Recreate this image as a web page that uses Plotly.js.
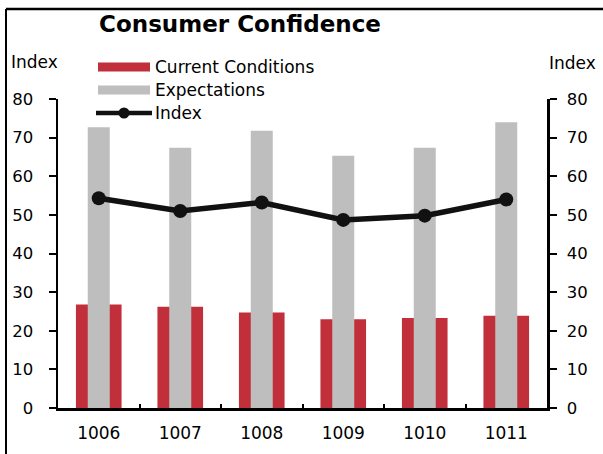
<!DOCTYPE html>
<html>
<head>
<meta charset="utf-8">
<script src="https://cdn.plot.ly/plotly-3.0.1.min.js"></script>
<style>
  html, body { margin: 0; padding: 0; background: #fff; }
  #chart { width: 603px; height: 454px; }
</style>
</head>
<body>
<div id="chart"></div>
<script>
// ---- data ----
const categories = ['1006', '1007', '1008', '1009', '1010', '1011'];
const currentConditions = [26.8, 26.2, 24.7, 23.0, 23.3, 23.9];
const expectations = [72.7, 67.4, 71.8, 65.3, 67.4, 74.0];
const indexValues = [54.3, 51.0, 53.2, 48.7, 49.8, 54.0];
const seriesNames = ['Current Conditions', 'Expectations', 'Index'];
const yTickVals = [0, 10, 20, 30, 40, 50, 60, 70, 80];
const titleText = 'Consumer Confidence';
const axisTitleText = 'Index';

// ---- layout geometry (pixels) ----
const W = 603, H = 454;
const L = 58, R = 56, T = 99, B = 46;
const PW = W - L - R, PH = H - T - B;
const px = x => (x - L) / PW;           // pixel x -> paper
const py = y => (H - B - y) / PH;       // pixel y -> paper

const RED = '#C1303A';
const GRAY = '#BEBEBE';
const BLACK = '#111111';
const FONT = 'DejaVu Sans, Arial, sans-serif';

const traces = [
  {
    type: 'bar', x: categories, y: currentConditions, name: seriesNames[0],
    marker: { color: RED, line: { width: 0 } }, width: 0.56, showlegend: false
  },
  {
    type: 'bar', x: categories, y: expectations, name: seriesNames[1],
    marker: { color: GRAY, line: { width: 0 } }, width: 0.27, showlegend: false
  },
  {
    type: 'scatter', mode: 'lines+markers', x: categories, y: indexValues, name: seriesNames[2],
    yaxis: 'y2',
    line: { color: BLACK, width: 5.5 },
    marker: { color: BLACK, size: 14 },
    showlegend: false
  }
];

// legend drawn as shapes + annotations
const legendRows = [
  { name: seriesNames[0], yc: 67, kind: 'bar', color: RED },
  { name: seriesNames[1], yc: 90, kind: 'bar', color: GRAY },
  { name: seriesNames[2], yc: 113, kind: 'line', color: BLACK }
];

const shapes = [
  // outer frame (left + top edges visible)
  { type: 'line', xref: 'paper', yref: 'paper', x0: px(6), x1: px(6), y0: py(9), y1: py(470), line: { color: '#000', width: 2 } },
  { type: 'line', xref: 'paper', yref: 'paper', x0: px(6), x1: px(620), y0: py(9), y1: py(9), line: { color: '#000', width: 2.5 } }
];
const annotations = [];

legendRows.forEach(r => {
  if (r.kind === 'bar') {
    shapes.push({ type: 'rect', xref: 'paper', yref: 'paper', x0: px(98), x1: px(150), y0: py(r.yc - 4.5), y1: py(r.yc + 4.5), line: { width: 0 }, fillcolor: r.color });
  } else {
    shapes.push({ type: 'line', xref: 'paper', yref: 'paper', x0: px(96), x1: px(152), y0: py(r.yc), y1: py(r.yc), line: { color: r.color, width: 4.5 } });
    shapes.push({ type: 'circle', xref: 'paper', yref: 'paper', x0: px(124 - 5.5), x1: px(124 + 5.5), y0: py(r.yc - 5.5), y1: py(r.yc + 5.5), line: { width: 0 }, fillcolor: r.color });
  }
  annotations.push({
    xref: 'paper', yref: 'paper', x: px(153), y: py(r.yc), xanchor: 'left', yanchor: 'middle',
    text: r.name, showarrow: false, font: { family: FONT, size: 17, color: '#000' }
  });
});

annotations.push({
  xref: 'paper', yref: 'paper', x: px(9), y: py(62), xanchor: 'left', yanchor: 'middle',
  text: axisTitleText, showarrow: false, font: { family: FONT, size: 17, color: '#000' }
});
annotations.push({
  xref: 'paper', yref: 'paper', x: px(598), y: py(63), xanchor: 'right', yanchor: 'middle',
  text: axisTitleText, showarrow: false, font: { family: FONT, size: 17, color: '#000' }
});

const yaxisCommon = {
  range: [0, 80], tickvals: yTickVals, ticktext: yTickVals.map(String),
  showgrid: false, zeroline: false,
  showline: true, linecolor: '#000', linewidth: 2.5,
  ticks: 'outside', ticklen: 7, tickwidth: 2, tickcolor: '#000',
  tickfont: { family: FONT, size: 16.5, color: '#000' },
  fixedrange: true
};

const layout = {
  width: W, height: H,
  margin: { l: L, r: R, t: T, b: B, pad: 0 },
  paper_bgcolor: '#fff', plot_bgcolor: '#fff',
  barmode: 'overlay',
  showlegend: false,
  title: {
    text: titleText, xref: 'container', yref: 'container',
    x: 240 / W, xanchor: 'center', y: 1 - 24 / H, yanchor: 'middle',
    font: { family: FONT, size: 23, weight: 700, color: '#000' }
  },
  xaxis: {
    type: 'category', range: [-0.5, 5.5],
    showgrid: false, zeroline: false,
    showline: true, linecolor: '#000', linewidth: 2.5,
    ticks: 'inside', ticklen: 4, tickwidth: 2, tickcolor: '#000', tickson: 'boundaries',
    tickfont: { family: FONT, size: 17, color: '#000' },
    ticklabelstandoff: 8,
    fixedrange: true
  },
  yaxis: Object.assign({}, yaxisCommon, { side: 'left', ticklabelstandoff: 12 }),
  yaxis2: Object.assign({}, yaxisCommon, { side: 'right', overlaying: 'y', ticklabelstandoff: 7 }),
  shapes: shapes,
  annotations: annotations
};

Plotly.newPlot('chart', traces, layout, { displayModeBar: false, staticPlot: true });
</script>
</body>
</html>
